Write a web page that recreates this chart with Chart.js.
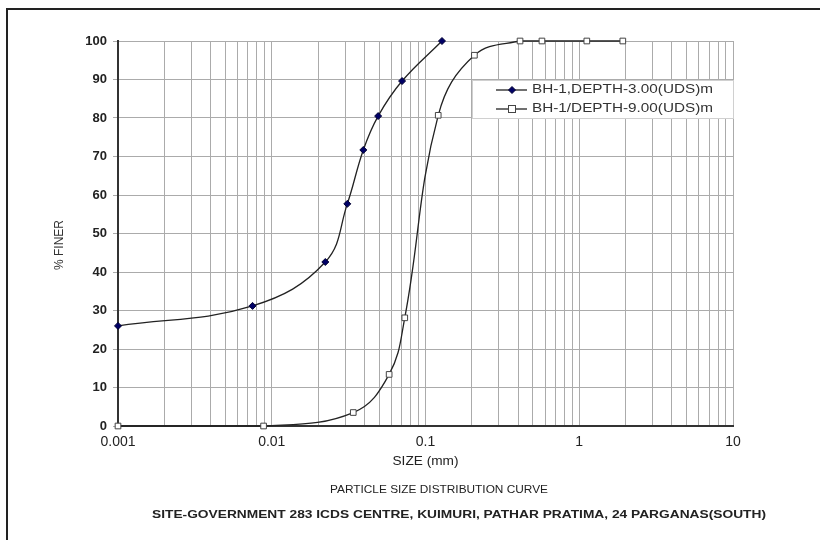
<!DOCTYPE html>
<html>
<head>
<meta charset="utf-8">
<script src="https://cdn.jsdelivr.net/npm/chart.js@4.4.1/dist/chart.umd.min.js"></script>
<style>
  html, body { margin: 0; background: #fff; }
  #wrap { width: 820px; height: 540px; position: relative; }
</style>
</head>
<body>
<div id="wrap"><canvas id="graph"></canvas></div>
<script>
// grain size (mm) vs % finer
const sizes3m = [0.001, 0.0075, 0.0223, 0.031, 0.0394, 0.0492, 0.0704, 0.128];
const finer3m = [26.0, 31.2, 42.6, 57.7, 71.7, 80.5, 89.6, 100];
const sizes9m = [0.001, 0.00885, 0.0339, 0.058, 0.0733, 0.121, 0.208, 0.412, 0.572, 1.12, 1.92];
const finer9m = [0, 0, 3.5, 13.4, 28.1, 80.7, 96.3, 100, 100, 100, 100];

const seriesNames = ['BH-1,DEPTH-3.00(UDS)m', 'BH-1/DEPTH-9.00(UDS)m'];
const xDecades = [0.001, 0.01, 0.1, 1, 10];
const yTickStep = 10;

const xTitle = 'SIZE (mm)';
const yTitle = '% FINER';
const caption1 = 'PARTICLE SIZE DISTRIBUTION CURVE';
const caption2 = 'SITE-GOVERNMENT 283 ICDS CENTRE, KUIMURI, PATHAR PRATIMA, 24 PARGANAS(SOUTH)';

// every 1..9 step inside each decade gets a grid line
const xTickValues = [];
xDecades.slice(0, -1).forEach(d => {
  for (let m = 1; m <= 9; m++) xTickValues.push(Number((m * d).toPrecision(3)));
});
xTickValues.push(xDecades[xDecades.length - 1]);

Chart.defaults.font.family = "'Liberation Sans', Arial, sans-serif";
Chart.defaults.color = '#222';

// draws text squeezed/stretched to a given width (the scan is a bit wide)
function fitText(ctx, text, cx, cy, width, font) {
  ctx.save();
  ctx.font = font;
  ctx.textAlign = 'center';
  ctx.textBaseline = 'middle';
  const w = ctx.measureText(text).width;
  ctx.translate(cx, cy);
  ctx.scale(width / w, 1);
  ctx.fillText(text, 0, 0);
  ctx.restore();
}

const decor = {
  id: 'decor',
  beforeDraw(chart) {
    const ctx = chart.ctx;
    ctx.save();
    ctx.strokeStyle = '#222';
    ctx.lineWidth = 2;
    ctx.beginPath();
    ctx.moveTo(7, 540);
    ctx.lineTo(7, 9);
    ctx.lineTo(820, 9);
    ctx.stroke();
    ctx.restore();
  },
  afterDraw(chart) {
    const ctx = chart.ctx;
    const area = chart.chartArea;

    // legend box
    ctx.save();
    ctx.fillStyle = '#fff';
    ctx.fillRect(472, 80, 262, 38);
    ctx.strokeStyle = '#d0d0d0';
    ctx.lineWidth = 1;
    ctx.strokeRect(472.5, 80.5, 261, 38);

    const rows = [90, 109];
    chart.data.datasets.forEach((ds, i) => {
      const y = rows[i];
      ctx.strokeStyle = ds.borderColor;
      ctx.lineWidth = 1.3;
      ctx.beginPath();
      ctx.moveTo(496, y);
      ctx.lineTo(527, y);
      ctx.stroke();
      ctx.fillStyle = ds.pointBackgroundColor;
      ctx.strokeStyle = ds.pointBorderColor;
      ctx.lineWidth = 1;
      if (ds.pointStyle === 'rectRot') {
        ctx.beginPath();
        ctx.moveTo(512, y - 3.5);
        ctx.lineTo(515.5, y);
        ctx.lineTo(512, y + 3.5);
        ctx.lineTo(508.5, y);
        ctx.closePath();
        ctx.fill();
        ctx.stroke();
      } else {
        ctx.fillRect(508, y - 4, 8, 8);
        ctx.strokeRect(508.5, y - 3.5, 7, 7);
      }
      ctx.fillStyle = '#333';
      ctx.save();
      ctx.font = '12px "Liberation Sans", Arial, sans-serif';
      const w = ctx.measureText(ds.label).width;
      ctx.textBaseline = 'middle';
      ctx.translate(532, y);
      ctx.scale(181 / w, 1);
      ctx.fillText(ds.label, 0, 0);
      ctx.restore();
    });
    ctx.restore();

    // titles and captions
    ctx.save();
    ctx.fillStyle = '#222';
    fitText(ctx, xTitle, (area.left + area.right) / 2, 462, 66, '12px "Liberation Sans", Arial, sans-serif');
    fitText(ctx, caption1, 439, 490, 218, '11px "Liberation Sans", Arial, sans-serif');
    fitText(ctx, caption2, 459, 515, 614, 'bold 10px "Liberation Sans", Arial, sans-serif');
    ctx.translate(60, 245);
    ctx.rotate(-Math.PI / 2);
    ctx.font = '12px "Liberation Sans", Arial, sans-serif';
    ctx.textAlign = 'center';
    ctx.textBaseline = 'middle';
    ctx.fillStyle = '#333';
    ctx.fillText(yTitle, 0, 0);
    ctx.restore();
  }
};

const graph = document.querySelector('#graph');
new Chart(graph, {
  type: 'line',
  data: {
    datasets: [
      {
        label: seriesNames[0],
        data: sizes3m.map((s, i) => ({ x: s, y: finer3m[i] })),
        borderColor: '#222',
        borderWidth: 1.3,
        pointStyle: 'rectRot',
        pointRadius: 3.5,
        pointBackgroundColor: '#000066',
        pointBorderColor: '#000033',
        pointBorderWidth: 1,
        tension: 0.4,
        clip: false
      },
      {
        label: seriesNames[1],
        data: sizes9m.map((s, i) => ({ x: s, y: finer9m[i] })),
        borderColor: '#222',
        borderWidth: 1.3,
        pointStyle: 'rect',
        pointRadius: 4,
        pointBackgroundColor: '#fff',
        pointBorderColor: '#444',
        pointBorderWidth: 1,
        tension: 0.4,
        clip: false
      }
    ]
  },
  options: {
    responsive: true,
    maintainAspectRatio: false,
    animation: false,
    layout: { padding: { left: 0, top: 41, right: 87, bottom: 0 } },
    plugins: { legend: { display: false }, tooltip: { enabled: false } },
    scales: {
      x: {
        type: 'logarithmic',
        min: xDecades[0],
        max: xDecades[xDecades.length - 1],
        afterBuildTicks: (axis) => {
          axis.ticks = xTickValues.map(v => ({ value: v, major: xDecades.includes(v) }));
        },
        afterFit: (scale) => { scale.height = 114; },
        ticks: {
          autoSkip: false,
          maxRotation: 0,
          padding: 8,
          font: { size: 14 },
          color: '#222',
          callback: (v) => xDecades.includes(v) ? String(v) : ''
        },
        grid: { color: '#ababab', lineWidth: 1, drawTicks: false },
        border: { color: '#333', width: 2 }
      },
      y: {
        min: 0,
        max: 100,
        afterFit: (scale) => { scale.width = 118; },
        ticks: { stepSize: yTickStep, padding: 6, font: { size: 13, weight: 'bold' }, color: '#222' },
        grid: { color: '#ababab', lineWidth: 1, tickLength: 5 },
        border: { color: '#333', width: 2 }
      }
    }
  },
  plugins: [decor]
});
</script>
</body>
</html>
